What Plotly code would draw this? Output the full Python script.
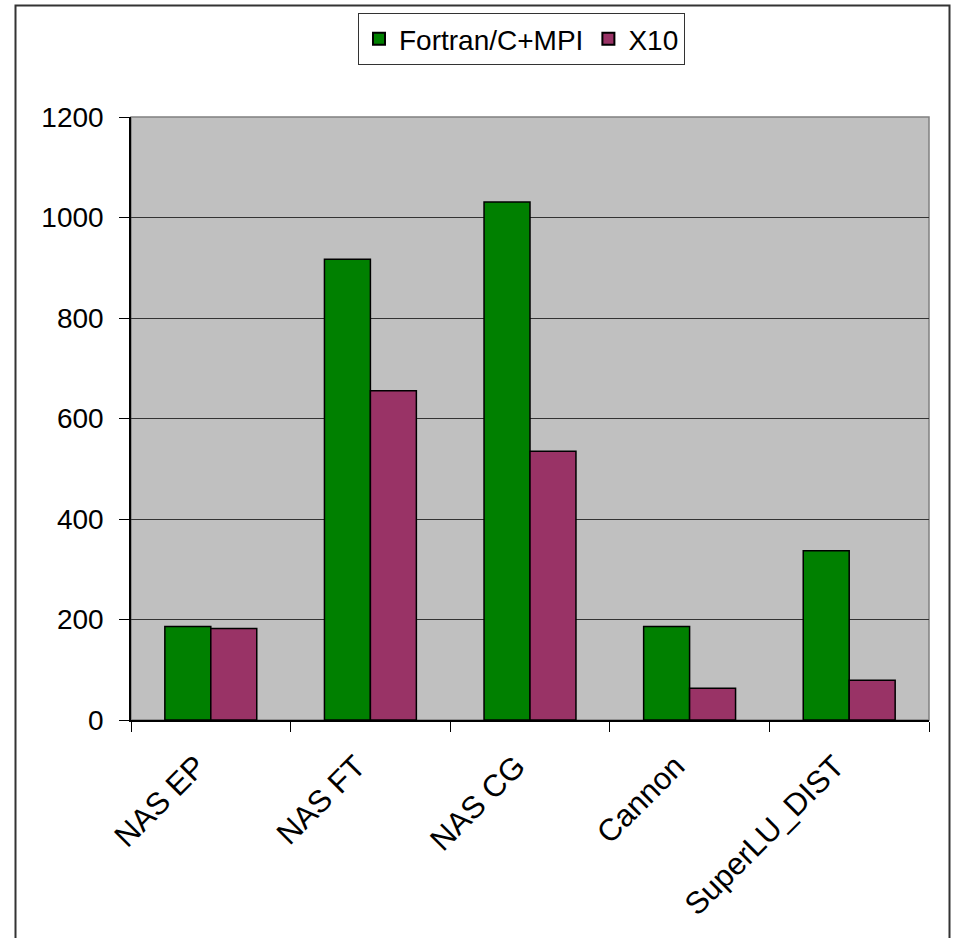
import plotly.graph_objects as go

categories = ["NAS EP", "NAS FT", "NAS CG", "Cannon", "SuperLU_DIST"]
fortran_mpi = [186, 917, 1031, 186, 337]
x10 = [182, 655, 535, 63, 79]
series_names = ["Fortran/C+MPI", "X10"]
y_ticks = [0, 200, 400, 600, 800, 1000, 1200]

FONT = "Liberation Sans, Arial, sans-serif"

fig = go.Figure()
fig.add_trace(go.Bar(x=categories, y=fortran_mpi, name=series_names[0],
                     marker=dict(color="#008000", line=dict(color="#000000", width=1.5))))
fig.add_trace(go.Bar(x=categories, y=x10, name=series_names[1],
                     marker=dict(color="#993366", line=dict(color="#000000", width=1.5))))

L, R, T, B = 131, 25, 117, 218
W, H = 954, 938
pw, ph = W - L - R, H - T - B

def px_x(p):
    return (p - L) / pw

def px_y(p):
    return (H - B - p) / ph

# outer chart frame
fig.add_shape(type="rect", xref="paper", yref="paper",
              x0=px_x(15.5), x1=px_x(949.5), y0=px_y(960), y1=px_y(5.5),
              line=dict(color="#333333", width=2), fillcolor="rgba(0,0,0,0)", layer="below")
# plot area border
fig.add_shape(type="rect", xref="paper", yref="paper", x0=0, x1=1, y0=0, y1=1,
              line=dict(color="#808080", width=1.5), fillcolor="rgba(0,0,0,0)", layer="below")

fig.update_layout(
    width=W, height=H,
    margin=dict(l=L, r=R, t=T, b=B, autoexpand=False),
    paper_bgcolor="white", plot_bgcolor="#C0C0C0",
    font=dict(family=FONT, size=28, color="#000000"),
    barmode="group", bargap=0.424, bargroupgap=0,
    legend=dict(orientation="h", x=px_x(521.5), xanchor="center", y=px_y(13), yanchor="top",
                bgcolor="white", bordercolor="#333333", borderwidth=1,
                font=dict(family=FONT, size=28, color="#000000"),
                itemsizing="constant", itemwidth=30, tracegroupgap=0),
    showlegend=True,
)
fig.update_xaxes(type="category", range=[-0.5, 4.5], showline=True, linecolor="#000000", linewidth=1.5,
                 ticks="outside", tickson="boundaries", ticklen=10, tickcolor="#000000", tickwidth=1,
                 tickangle=-45, showgrid=False, ticklabelstandoff=14, ticklabelshift=-14,
                 tickfont=dict(family=FONT, size=31, color="#000000"))
fig.update_yaxes(range=[0, 1200], tickvals=y_ticks, showline=True, linecolor="#000000", linewidth=1.5,
                 ticks="outside", ticklen=10, tickcolor="#000000", tickwidth=1,
                 showgrid=True, gridcolor="#333333", gridwidth=1, zeroline=False,
                 ticklabelstandoff=10, tickfont=dict(family=FONT, size=28, color="#000000"))

fig.write_html("out.html")
